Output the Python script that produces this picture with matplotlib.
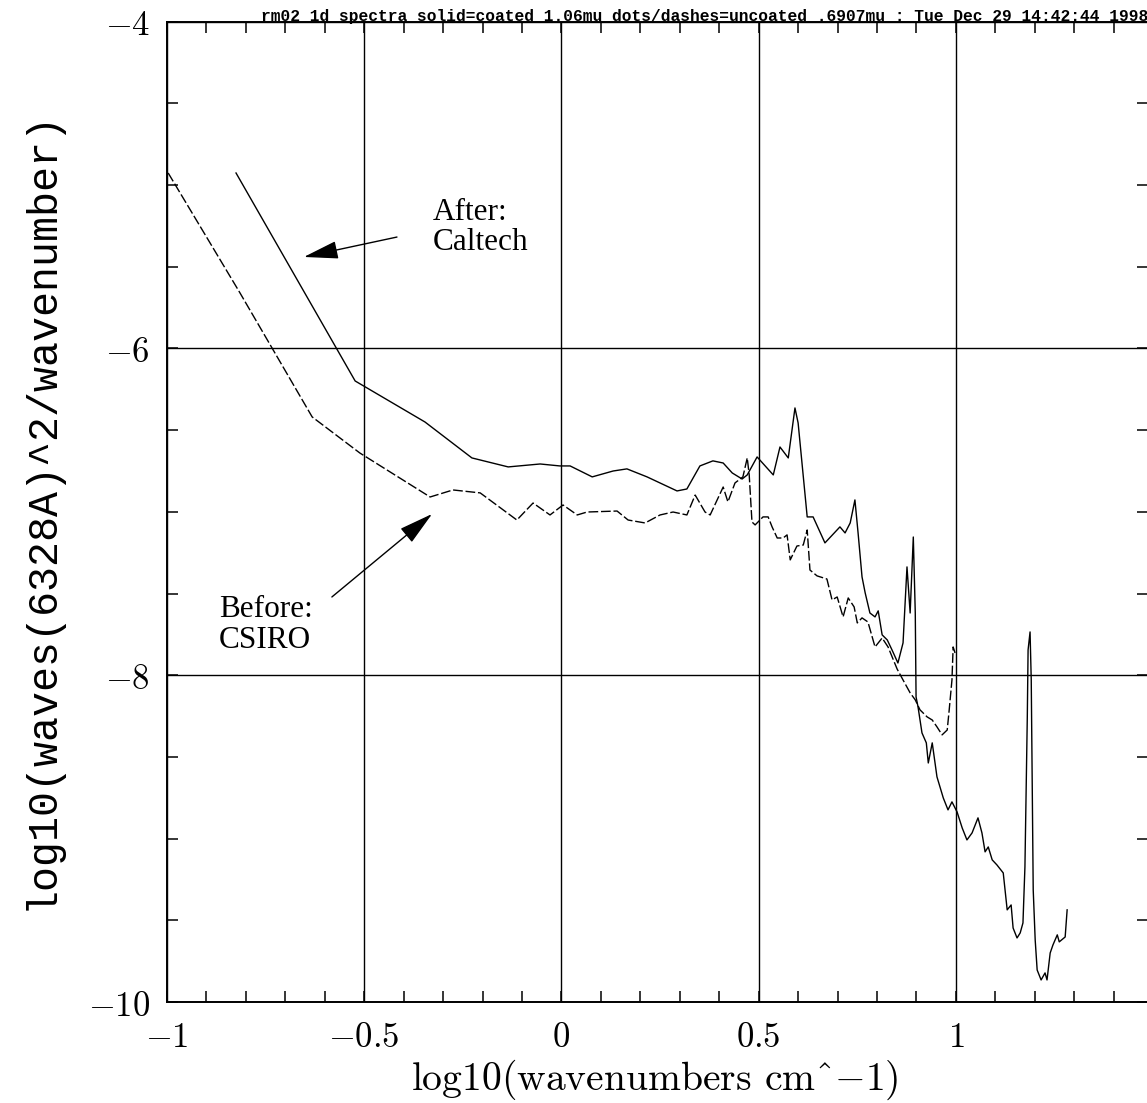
import matplotlib
matplotlib.use('Agg')
import matplotlib.pyplot as plt
from matplotlib.ticker import MultipleLocator, FuncFormatter

# solid line: coated 1.06mu ("After: Caltech")
coated_x = [-0.825, -0.523, -0.346, -0.227, -0.135, -0.054, -0.004, 0.022, 0.078, 0.131,
            0.166, 0.217, 0.293, 0.318, 0.351, 0.384, 0.410, 0.433, 0.458, 0.471,
            0.496, 0.537, 0.554, 0.575, 0.592, 0.600, 0.623, 0.638, 0.668, 0.694,
            0.706, 0.719, 0.732, 0.744, 0.752, 0.762, 0.770, 0.782, 0.795, 0.803,
            0.813, 0.826, 0.838, 0.853, 0.866, 0.876, 0.884, 0.892, 0.897, 0.899,
            0.904, 0.914, 0.925, 0.930, 0.940, 0.952, 0.968, 0.980, 0.990, 1.003,
            1.016, 1.028, 1.041, 1.056, 1.066, 1.074, 1.082, 1.092, 1.104, 1.120,
            1.130, 1.140, 1.145, 1.155, 1.163, 1.170, 1.175, 1.181, 1.183, 1.188,
            1.191, 1.196, 1.201, 1.206, 1.216, 1.226, 1.231, 1.239, 1.246, 1.257,
            1.262, 1.277, 1.282]
coated_y = [-4.926, -6.199, -6.450, -6.670, -6.725, -6.707, -6.719, -6.719, -6.786, -6.750,
            -6.737, -6.786, -6.872, -6.860, -6.719, -6.688, -6.701, -6.762, -6.799, -6.774,
            -6.664, -6.774, -6.603, -6.670, -6.364, -6.456, -7.031, -7.031, -7.190, -7.123,
            -7.092, -7.129, -7.068, -6.927, -7.129, -7.398, -7.496, -7.619, -7.643, -7.606,
            -7.753, -7.784, -7.845, -7.925, -7.802, -7.337, -7.619, -7.154, -7.619, -8.133,
            -8.194, -8.353, -8.414, -8.537, -8.414, -8.622, -8.751, -8.824, -8.775, -8.837,
            -8.935, -9.008, -8.965, -8.873, -8.965, -9.081, -9.051, -9.130, -9.161, -9.210,
            -9.436, -9.406, -9.547, -9.608, -9.577, -9.516, -9.173, -8.255, -7.845, -7.735,
            -8.029, -9.314, -9.620, -9.804, -9.865, -9.822, -9.865, -9.700, -9.651, -9.589,
            -9.632, -9.602, -9.436]

# dashed line: uncoated .6907mu ("Before: CSIRO")
uncoated_x = [-0.997, -0.815, -0.632, -0.511, -0.333, -0.275, -0.206, -0.113, -0.072, -0.029,
              0.004, 0.040, 0.065, 0.141, 0.169, 0.212, 0.250, 0.283, 0.318, 0.339,
              0.364, 0.377, 0.410, 0.422, 0.440, 0.460, 0.471, 0.476, 0.483, 0.491,
              0.511, 0.524, 0.534, 0.547, 0.562, 0.572, 0.580, 0.597, 0.613, 0.623,
              0.630, 0.648, 0.673, 0.686, 0.699, 0.714, 0.727, 0.742, 0.750, 0.762,
              0.777, 0.795, 0.813, 0.828, 0.851, 0.866, 0.884, 0.897, 0.909, 0.927,
              0.940, 0.952, 0.965, 0.978, 0.983, 0.990, 0.993, 0.998]
uncoated_y = [-4.926, -5.660, -6.419, -6.640, -6.909, -6.866, -6.884, -7.050, -6.946, -7.019,
              -6.958, -7.019, -7.001, -6.995, -7.050, -7.068, -7.019, -7.001, -7.019, -6.897,
              -7.001, -7.019, -6.848, -6.939, -6.823, -6.786, -6.670, -6.774, -7.062, -7.080,
              -7.031, -7.031, -7.092, -7.160, -7.160, -7.141, -7.294, -7.209, -7.203, -7.111,
              -7.356, -7.392, -7.411, -7.539, -7.521, -7.643, -7.527, -7.582, -7.680, -7.649,
              -7.674, -7.827, -7.772, -7.827, -7.962, -8.029, -8.108, -8.151, -8.212, -8.255,
              -8.274, -8.316, -8.365, -8.335, -8.212, -8.029, -7.827, -7.865]

title = 'rm02 1d spectra solid=coated 1.06mu dots/dashes=uncoated .6907mu : Tue Dec 29 14:42:44 1998'

W, H = 1147, 1103


def setup_pyplot():
    plt.rcParams['mathtext.fontset'] = 'cm'
    plt.rcParams['axes.linewidth'] = 1.4
    plt.rcParams['xtick.direction'] = 'in'
    plt.rcParams['ytick.direction'] = 'in'
    plt.rcParams['axes.unicode_minus'] = False


def main():
    fig = plt.figure(figsize=(W / 100, H / 100), dpi=100)
    ax = fig.add_axes([167 / W, 101 / H, 981 / W, 980.3 / H])

    ax.plot(coated_x, coated_y, color='k', lw=1.0)
    ax.plot(uncoated_x, uncoated_y, color='k', lw=1.0, linestyle=(0, (7, 2)))

    ax.set_xlim(-1, 1.487)
    ax.set_ylim(-10, -4)
    ax.xaxis.set_major_locator(MultipleLocator(0.5))
    ax.xaxis.set_minor_locator(MultipleLocator(0.1))
    ax.yaxis.set_major_locator(MultipleLocator(2))
    ax.yaxis.set_minor_locator(MultipleLocator(0.5))
    fmt = FuncFormatter(lambda v, p: '$%g$' % v)
    ax.xaxis.set_major_formatter(fmt)
    ax.yaxis.set_major_formatter(fmt)
    ax.tick_params(which='both', top=True, right=True, length=8, width=1.1,
                   labelsize=25)
    ax.tick_params(axis='y', pad=12)
    ax.tick_params(axis='x', pad=13)
    ax.grid(True, which='major', color='k', lw=1.0)

    ax.set_xlabel('log10(wavenumbers cm^$-$1)', family='cmr10', fontsize=28.5)
    ax.set_ylabel('log10(waves(6328A)^2/wavenumber)', family='Liberation Mono', fontsize=30)
    ax.xaxis.set_label_coords(0.497, -0.057)
    ax.yaxis.set_label_coords(-0.107, 0.502)

    fig.text(261 / W, 1 - 21.5 / H, title, ha='left', va='baseline',
             family='Liberation Mono', weight='bold', fontsize=11.7)

    # annotations
    ax.text(-0.326, -5.214, 'After:', family='Liberation Serif', fontsize=22.5, va='baseline')
    ax.text(-0.326, -5.400, 'Caltech', family='Liberation Serif', fontsize=22.5, va='baseline')
    ax.text(-0.868, -7.643, 'Before:', family='Liberation Serif', fontsize=22.5, va='baseline')
    ax.text(-0.868, -7.833, 'CSIRO', family='Liberation Serif', fontsize=22.5, va='baseline')

    arrow = dict(arrowstyle='-|>,head_length=1.08,head_width=0.28', mutation_scale=20,
                 lw=1.0, color='k', shrinkA=0, shrinkB=0)
    ax.annotate('', xy=(-0.653, -5.440), xytext=(-0.417, -5.318), arrowprops=arrow)
    ax.annotate('', xy=(-0.328, -7.013), xytext=(-0.582, -7.521), arrowprops=arrow)

    fig.savefig('out.png', dpi=100)


if __name__ == "__main__":
    setup_pyplot()
    main()
